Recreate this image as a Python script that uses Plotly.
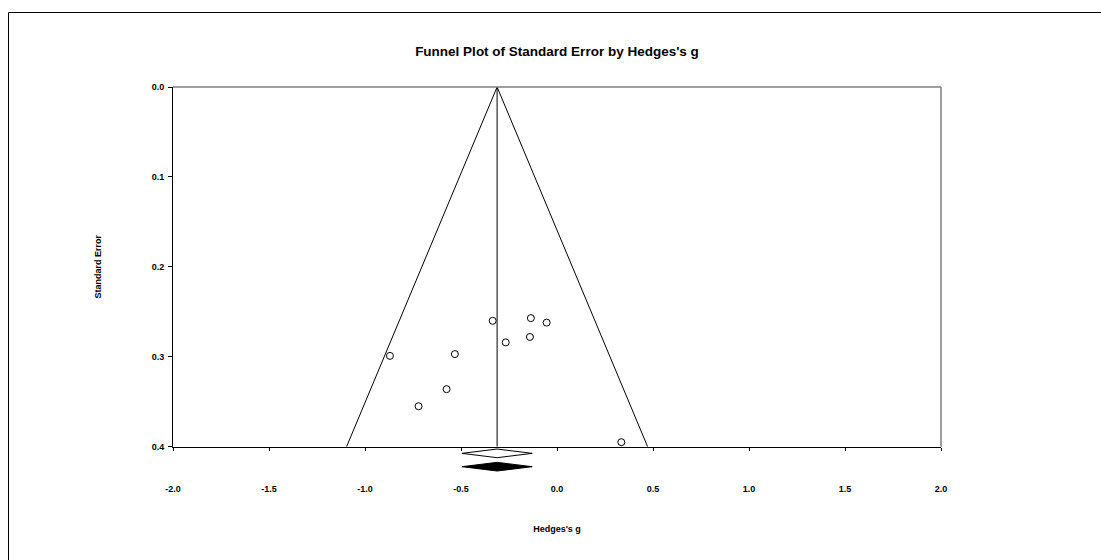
import plotly.graph_objects as go

# Study effect sizes (Hedges's g) and their standard errors
hedges_g = [-0.870, -0.532, -0.335, -0.267, -0.136, -0.054, -0.141, -0.575, -0.721, 0.335]
std_err = [0.299, 0.297, 0.260, 0.284, 0.257, 0.262, 0.278, 0.336, 0.355, 0.395]

# Pooled estimate with its 95% interval (observed and adjusted)
pooled_g = -0.312
pooled_lo = -0.495
pooled_hi = -0.129
adjusted_g = -0.312
adjusted_lo = -0.495
adjusted_hi = -0.129

se_ticks = [0.0, 0.1, 0.2, 0.3, 0.4]
se_labels = ["0.0", "0.1", "0.2", "0.3", "0.4"]
g_ticks = [-2.0, -1.5, -1.0, -0.5, 0.0, 0.5, 1.0, 1.5, 2.0]
g_labels = ["-2.0", "-1.5", "-1.0", "-0.5", "0.0", "0.5", "1.0", "1.5", "2.0"]

SE_MAX = 0.4
Z = 1.96

W, H = 1101, 560
ML, MR, MT, MB = 173, 160, 87, 80
plot_w = W - ML - MR
plot_h = H - MT - MB
axis_px = 446.7  # pixel row of the SE axis bottom
split = (H - MB - axis_px) / plot_h


def px_x(p):
    return (p - ML) / plot_w


def px_y(p):
    return (H - MB - p) / plot_h


FONT = "Liberation Sans, Arial, sans-serif"
tick_font = dict(family=FONT, size=9, color="black", weight="bold")
label_font = dict(family=FONT, size=9, color="black", weight="bold")

fig = go.Figure()

# Funnel (pseudo 95% limits)
fig.add_trace(go.Scatter(
    x=[pooled_g - Z * SE_MAX, pooled_g, pooled_g + Z * SE_MAX],
    y=[SE_MAX, 0, SE_MAX],
    mode="lines", line=dict(color="black", width=1),
    xaxis="x", yaxis="y", hoverinfo="skip", showlegend=False,
))
# Vertical line at the pooled estimate
fig.add_trace(go.Scatter(
    x=[pooled_g, pooled_g], y=[0, SE_MAX],
    mode="lines", line=dict(color="black", width=1),
    xaxis="x", yaxis="y", hoverinfo="skip", showlegend=False,
))
# Individual studies
fig.add_trace(go.Scatter(
    x=hedges_g, y=std_err, mode="markers",
    marker=dict(symbol="circle", size=7, color="white",
                line=dict(color="black", width=1)),
    xaxis="x", yaxis="y", showlegend=False, cliponaxis=False,
))

# Summary diamonds below the funnel
def diamond(lo, mid, hi, cy, h):
    return [lo, mid, hi, mid, lo], [cy, cy + h, cy, cy - h, cy]


dx, dy = diamond(pooled_lo, pooled_g, pooled_hi, 0.80, 0.13)
fig.add_trace(go.Scatter(
    x=dx, y=dy, mode="lines", fill="toself", fillcolor="white",
    line=dict(color="black", width=1), xaxis="x2", yaxis="y2",
    hoverinfo="skip", showlegend=False,
))
dx, dy = diamond(adjusted_lo, adjusted_g, adjusted_hi, 0.40, 0.13)
fig.add_trace(go.Scatter(
    x=dx, y=dy, mode="lines", fill="toself", fillcolor="black",
    line=dict(color="black", width=1), xaxis="x2", yaxis="y2",
    hoverinfo="skip", showlegend=False,
))

fig.update_layout(
    width=W, height=H,
    margin=dict(l=ML, r=MR, t=MT, b=MB),
    paper_bgcolor="white", plot_bgcolor="white",
    font=dict(family=FONT, color="black"),
    title=dict(
        text="Funnel Plot of Standard Error by Hedges's g",
        font=dict(family=FONT, size=13.5, color="black", weight="bold"),
        x=557 / W, xref="container", xanchor="center",
        y=1 - 51 / H, yref="container", yanchor="middle",
    ),
    xaxis=dict(
        range=[-2, 2], anchor="y", showgrid=False, zeroline=False,
        showline=True, linecolor="black", linewidth=1,
        ticks="outside", ticklen=3, tickcolor="black", tickwidth=1,
        tickvals=g_ticks, showticklabels=False,
    ),
    xaxis3=dict(
        range=[-2, 2], overlaying="x", anchor="y", side="bottom",
        showgrid=False, zeroline=False, showline=False,
        ticks="inside", ticklen=3, tickcolor="black", tickwidth=1,
        tickvals=g_ticks, showticklabels=False,
    ),
    yaxis=dict(
        range=[SE_MAX, 0], domain=[split, 1], anchor="x",
        showgrid=False, zeroline=False,
        showline=True, linecolor="black", linewidth=1,
        ticks="outside", ticklen=4, tickcolor="black", tickwidth=1,
        tickvals=se_ticks, ticktext=se_labels, tickfont=tick_font,
        ticklabelstandoff=2,
        title=dict(text="Standard Error", standoff=48, font=label_font),
    ),
    xaxis2=dict(
        range=[-2, 2], anchor="y2", showgrid=False, zeroline=False,
        showline=False, ticks="", tickvals=g_ticks, ticktext=g_labels,
        tickfont=tick_font, ticklabelstandoff=2,
        title=dict(text="Hedges's g", standoff=32, font=label_font),
    ),
    yaxis2=dict(
        range=[0, 1], domain=[0, split], anchor="x2",
        visible=False, fixedrange=True,
    ),
    shapes=[
        # top and right borders of the plot box
        dict(type="line", xref="paper", yref="paper",
             x0=0, x1=1, y0=1, y1=1, line=dict(color="#7f7f7f", width=1.5)),
        dict(type="line", xref="paper", yref="paper",
             x0=1, x1=1, y0=split, y1=1, line=dict(color="#7f7f7f", width=1.5)),
        # outer frame
        dict(type="rect", xref="paper", yref="paper",
             x0=px_x(8.5), x1=px_x(W + 20), y0=px_y(H + 20), y1=px_y(12.5),
             line=dict(color="black", width=1), fillcolor="rgba(0,0,0,0)"),
    ],
)

fig.write_html("out.html")
